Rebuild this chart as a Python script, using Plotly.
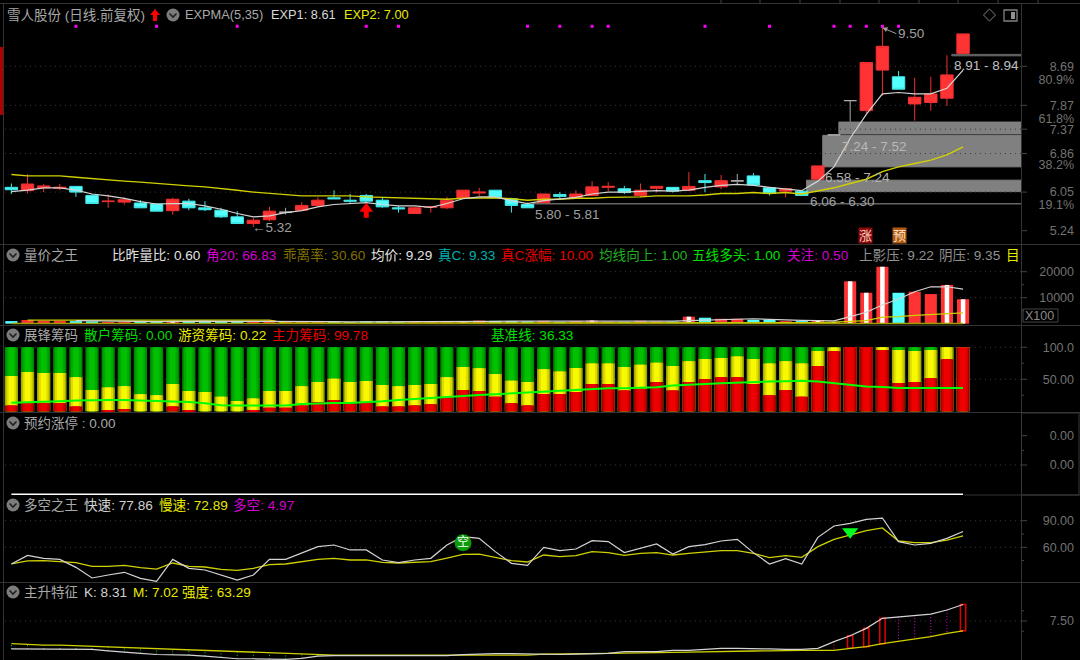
import plotly.graph_objects as go

IDX = list(range(60))
OPEN = [6.15,6.08,6.14,6.13,6.17,5.98,5.85,5.84,5.82,5.80,5.66,5.86,5.72,5.67,5.53,5.39,5.47,5.62,5.67,5.77,
        5.93,5.88,5.98,5.88,5.72,5.60,5.73,5.72,5.93,6.03,6.09,5.91,5.79,5.83,6.00,5.93,5.98,6.15,6.12,5.98,
        6.13,6.15,6.09,6.29,6.16,6.28,6.39,6.14,6.07,6.07,6.32,7.25,7.97,7.76,8.61,8.47,7.90,7.93,8.02,8.96]
CLOSE = [6.10,6.22,6.18,6.15,6.05,5.81,5.86,5.89,5.72,5.65,5.90,5.72,5.68,5.53,5.39,5.46,5.65,5.63,5.77,5.88,
         5.91,5.86,5.86,5.74,5.70,5.72,5.74,5.88,6.09,6.05,5.93,5.77,5.72,6.01,5.96,6.01,6.16,6.17,6.04,6.09,
         6.17,6.07,6.17,6.25,6.29,6.29,6.20,6.02,6.12,5.98,6.60,7.25,7.97,8.77,9.11,8.21,8.04,8.11,8.51,9.37]
HIGH = [6.23,6.43,6.22,6.22,6.17,6.01,6.00,5.94,5.88,5.81,5.93,5.91,5.86,5.72,5.65,5.51,5.74,5.72,5.84,5.94,
        6.09,6.01,6.01,5.93,5.76,5.74,5.76,5.95,6.09,6.14,6.09,5.93,5.83,6.01,6.05,6.09,6.28,6.26,6.18,6.23,
        6.18,6.15,6.47,6.43,6.41,6.43,6.45,6.15,6.14,6.09,6.60,7.25,7.97,8.77,9.50,8.59,8.45,8.47,8.92,9.37]
LOW = [6.01,6.02,6.05,6.09,5.95,5.81,5.72,5.79,5.72,5.65,5.58,5.67,5.65,5.51,5.39,5.32,5.44,5.58,5.65,5.74,
       5.91,5.80,5.81,5.72,5.62,5.60,5.62,5.69,5.93,5.97,5.93,5.62,5.72,5.83,5.90,5.93,5.98,6.07,6.01,5.94,
       6.04,6.04,6.07,6.05,6.11,6.21,6.18,5.98,5.94,5.98,6.32,7.25,7.53,7.70,8.07,8.21,7.55,7.76,7.86,8.95]
GRAY_IDX = [17, 45, 51, 52]
EXP1 = [6.06,6.09,6.14,6.14,6.09,6.01,5.97,5.92,5.85,5.80,5.81,5.81,5.76,5.69,5.60,5.53,5.55,5.62,5.66,5.74,
        5.79,5.81,5.83,5.79,5.76,5.76,5.73,5.81,5.91,5.95,5.95,5.87,5.81,5.87,5.90,5.94,6.01,6.05,6.05,6.07,
        6.08,6.07,6.09,6.15,6.19,6.21,6.19,6.15,6.11,6.08,6.28,6.58,7.18,7.68,8.11,8.14,8.11,8.11,8.23,8.61]
EXP2 = [6.42,6.39,6.39,6.39,6.36,6.33,6.30,6.28,6.26,6.23,6.21,6.18,6.16,6.13,6.09,6.05,6.02,5.99,5.97,5.97,
        5.97,5.97,5.95,5.94,5.92,5.92,5.90,5.90,5.92,5.93,5.93,5.91,5.88,5.90,5.90,5.92,5.92,5.94,5.94,5.95,
        5.97,5.97,5.97,5.99,6.02,6.02,6.04,6.02,6.04,6.01,6.08,6.14,6.23,6.32,6.48,6.58,6.65,6.72,6.83,7.00]
SIGNAL_IDX = [4,9,14,22,24,32,34,36,37,43,47,51,52,53,54,55]
SIGNAL_VAL = [9.53]*16
ZONE_START = [51.3,50.3,49.3,32.3,58.3]
ZONE_LOW = [7.27,6.58,6.06,5.80,8.91]
ZONE_HIGH = [7.52,7.24,6.30,5.81,8.94]
ZONE_COLOR = ["#808080","#808080","#808080","#666666","#666666"]

VOLUME = [1000,1400,1100,1100,1000,900,500,700,900,1000,1100,1000,700,900,900,900,1200,600,700,700,
          700,600,900,900,500,600,500,700,1000,1200,1100,1000,900,1100,700,1000,1200,800,700,1100,
          900,800,2700,2300,1900,1900,1500,1500,1000,1000,1400,700,16300,11900,21900,11900,12300,11400,14900,9400]
VOL_WHITE_CORE = [10,28,36,42,50,51,52,53,54,58,59]
VOL_MA5 = [None,None,None,None,1200,1100,1000,900,800,800,900,1000,1000,900,900,900,1000,1000,900,800,
           800,700,700,800,800,700,700,700,700,800,900,1000,1000,1100,1000,1000,1000,1000,900,1000,
           1000,1000,1200,1400,1700,1900,1900,1700,1400,1300,1200,1100,2700,4400,7200,9500,12300,14200,14200,13300]
VOL_MA_LONG = [None,1400,1400,1400,1400,1400,1400,1400,1400,1400,1400,1400,1400,1400,1400,1400,1400,200,200,200,
               200,200,200,200,200,200,200,200,200,200,200,200,200,200,200,200,200,200,200,200,
               200,200,200,200,300,300,300,300,300,300,400,600,1000,1200,2500,2700,3200,3600,3900,4200]
VOL_BASE = [60]*60

CHIP_MAIN = [8.9,12.5,12.5,12.5,7.3,0,2.1,3.6,0,0,7.3,2.1,0,0,0,2.1,5.7,5.7,8.9,14.6,17.7,12.5,14.1,7.3,7.3,8.9,10.9,21.9,33.3,31.8,
             22.9,12.5,8.9,27.1,27.1,30.2,42.7,42.7,32.3,35.4,45.8,32.3,45.8,50,53.1,53.1,42.7,25,33.3,22.9,70.8,93.8,100,100,95.8,44.3,45.8,51.6,81.3,99.78]
CHIP_MAIN_HOT = [55.2,61.5,59.9,59.9,53.1,33.3,37,39.1,26.6,25,42.7,31.8,30.2,22.9,16.2,19.8,31.8,31.8,39.1,45.8,51,45.8,47.4,41.2,39.1,41.2,42.7,53.1,69.3,67.2,
                 58.3,47.9,45.8,65.6,62,67.7,74.5,74.5,69.3,72.9,76,70.8,78.1,81.8,83.3,85.4,81.8,74.5,78.1,74.5,94.3,99.5,100,100,100,95.8,94.3,95.8,100,100]
CHIP_ALL = [100]*60
CHIP_BASE = [13.5,14,15.1,15.6,16.7,17.7,17.7,17.7,17.2,16.7,15.6,14.6,12.5,9.4,8.9,8.9,8.9,8.9,11.5,12.5,13,13,14,15.6,17.7,19.3,21.4,23.4,25,25.5,
             26.6,28.1,28.6,30.7,32.3,33.3,34.9,36,36,37,37.5,40.1,41.7,42.7,43.7,44.8,45.3,46.4,46.9,47.9,46.4,43.7,41.7,38.6,38,36.4,36.4,36.4,36.4,36.33]

RESERVE = [0]*60

FAST = [41.2,50.9,47.6,46.4,37.4,25.4,28.8,31.8,25,21.6,46.4,36.3,34.4,28.8,23.1,28.8,46.4,46.4,54,60.7,
        62.6,57,57,45.7,42.7,45.7,47.6,62.6,72,70.1,55.1,41.9,39.7,60,56.2,58.1,67.5,66.4,54,58.5,
        63.7,52.4,60.7,63,67.1,69,54,41.2,47.2,41.2,71.2,84,87,91.5,93,66.4,62.6,64.5,70.1,77.86]
SLOW = [41.2,44.6,44.9,44.2,42.7,38.5,38.5,39.7,37,35.5,42.3,38.5,37.8,35.2,34,36.3,40.4,41.2,43.4,46.4,
        47.6,45.7,45.7,43.1,42.3,43.4,43.8,47.9,52,52.4,48.7,44.9,43.4,51.3,49.4,50.6,55.1,54,51,53.2,
        54,51.3,53.2,55.1,56.2,56.2,53.2,48.3,50.6,48.7,60.7,69,73.9,78.8,81.8,67.1,65.2,65.2,68.2,72.89]
SIGNAL_KONG = ([28], [65])
SIGNAL_DOWN = ([52], [77.6])

K_LINE = [6.13,6.13,6.13,6.13,6.13,6.11,6.04,5.96,5.91,5.86,5.86,5.83,5.78,5.72,5.65,5.65,5.64,5.62,5.67,5.78,
          5.80,5.80,5.80,5.80,5.80,5.80,5.80,5.80,5.85,5.88,5.90,5.90,5.88,5.86,5.86,5.88,5.88,5.91,6.00,6.00,
          6.00,6.06,6.06,6.11,6.16,6.16,6.13,6.13,6.11,6.11,6.16,6.49,6.78,7.14,7.63,7.71,7.78,7.84,8.04,8.31]
M_LINE = [6.39,6.34,6.32,6.32,6.29,6.27,6.24,6.21,6.19,6.16,6.13,6.08,6.04,6.01,5.98,5.95,5.93,5.90,5.88,5.85,
          5.83,5.83,5.83,5.83,5.83,5.83,5.83,5.83,5.83,5.85,5.85,5.83,5.83,5.88,5.88,5.88,5.91,5.91,5.93,5.93,
          5.96,5.96,5.98,6.00,6.01,6.01,6.03,6.04,6.06,6.06,6.06,6.06,6.16,6.24,6.39,6.50,6.62,6.73,6.89,7.02]
GREEN_MARK = list(range(0, 28))
RED_DOT_MARK = [51]
MAGENTA_MARK = [55, 56, 57, 58]
RED_BOX_IDX = [52, 53, 54, 59]

MAIN_TICKS = [8.69, 8.42, 7.87, 7.60, 7.37, 6.86, 6.62, 6.05, 5.78, 5.24]
MAIN_LABELS = ["8.69", "80.9%", "7.87", "61.8%", "7.37", "6.86", "38.2%", "6.05", "19.1%", "5.24"]
MAIN_GRID = [8.69, 7.87, 7.37, 6.86, 6.05]
VOL_TICKS = [20000, 10000]
VOL_LABELS = ["20000", "10000"]
VOL_MINOR = [15000, 5000]
CHIP_TICKS = [100, 50]
CHIP_LABELS = ["100.0", "50.00"]
CHIP_MINOR = [75, 25]
RES_TICKS = [2, 1]
RES_LABELS = ["0.00", "0.00"]
RES_MINOR = [1.5]
FAST_TICKS = [90, 60]
FAST_LABELS = ["90.00", "60.00"]
FAST_MINOR = [75, 45]
K_TICKS = [7.5]
K_LABELS = ["7.50"]
K_MINOR = [8.0, 7.0]

FONT = "Liberation Sans, Noto Sans CJK SC, sans-serif"
W, H = 1080, 660
PX0, PXSTEP = 11.4, 16.13
XR = [(0 - PX0) / PXSTEP, (1021 - PX0) / PXSTEP]
RED, CYAN, GRAY = "#ff3333", "#54ffff", "#a8a8a8"
LINE_WHITE, YEL = "#d4d4d4", "#d0d000"


def X(p):
    return p / W


def Y(p):
    return 1 - p / H


def dom(top, bot):
    return [Y(bot), Y(top)]


fig = go.Figure()

# main panel
keep = [i for i in IDX if i not in GRAY_IDX]
fig.add_trace(go.Candlestick(
    x=keep, open=[OPEN[i] for i in keep], high=[HIGH[i] for i in keep],
    low=[LOW[i] for i in keep], close=[CLOSE[i] for i in keep], whiskerwidth=0,
    increasing=dict(fillcolor=RED, line=dict(color="#f03030", width=1)),
    decreasing=dict(fillcolor=CYAN, line=dict(color="#40e8e8", width=1)), yaxis="y"))
fig.add_trace(go.Candlestick(
    x=GRAY_IDX, open=[OPEN[i] for i in GRAY_IDX], high=[HIGH[i] for i in GRAY_IDX],
    low=[LOW[i] for i in GRAY_IDX], close=[CLOSE[i] for i in GRAY_IDX], whiskerwidth=0,
    increasing=dict(fillcolor=GRAY, line=dict(color=GRAY, width=1)),
    decreasing=dict(fillcolor=GRAY, line=dict(color=GRAY, width=1)), yaxis="y"))
fig.add_trace(go.Scatter(x=IDX, y=EXP2, mode="lines", line=dict(color=YEL, width=1.4), yaxis="y"))
fig.add_trace(go.Scatter(x=IDX, y=EXP1, mode="lines", line=dict(color=LINE_WHITE, width=1.2), yaxis="y"))
fig.add_trace(go.Scatter(x=SIGNAL_IDX, y=SIGNAL_VAL, mode="markers",
                         marker=dict(symbol="square", size=3, color="#ff00ff"), yaxis="y"))
fig.add_trace(go.Scatter(x=[22, 22], y=[5.67, 5.51], mode="lines", line=dict(color="#ff0000", width=5), yaxis="y"))
fig.add_trace(go.Scatter(x=[22], y=[5.70], mode="markers",
                         marker=dict(symbol="triangle-up", size=12, color="#ff0000"), yaxis="y"))

# volume panel
vol_col = [RED if CLOSE[i] >= OPEN[i] else CYAN for i in IDX]
fig.add_trace(go.Scatter(x=IDX, y=VOL_MA_LONG, mode="lines", line=dict(color=YEL, width=1.2), yaxis="y2"))
fig.add_trace(go.Scatter(x=IDX, y=VOL_MA5, mode="lines", line=dict(color=LINE_WHITE, width=1.2), yaxis="y2"))
fig.add_trace(go.Bar(x=IDX, y=VOLUME, width=0.75, marker=dict(color=vol_col, line=dict(width=0)), yaxis="y2"))
fig.add_trace(go.Bar(x=VOL_WHITE_CORE, y=[VOLUME[i] for i in VOL_WHITE_CORE], width=0.28,
                     marker=dict(color="#ffffff", line=dict(width=0)), yaxis="y2"))
fig.add_trace(go.Scatter(x=IDX, y=VOL_BASE, mode="lines", line=dict(color="#a0a000", width=1.5), yaxis="y2"))

# chips panel: each stack is shaded darker at the edges
for values, shades in ((CHIP_ALL, ("#008800", "#00a800", "#00c000")),
                       (CHIP_MAIN_HOT, ("#a8a800", "#dcdc00", "#f8f800")),
                       (CHIP_MAIN, ("#a00000", "#d40000", "#ee0000"))):
    for wd, col in zip((0.82, 0.62, 0.36), shades):
        fig.add_trace(go.Bar(x=IDX, y=values, width=wd, marker=dict(color=col, line=dict(width=0)), yaxis="y3"))
fig.add_trace(go.Scatter(x=IDX, y=CHIP_BASE, mode="lines", line=dict(color="#00ff00", width=2), yaxis="y3"))

# reserve panel
fig.add_trace(go.Scatter(x=IDX, y=RESERVE, mode="lines", line=dict(color="#ffffff", width=1.5),
                         cliponaxis=False, yaxis="y4"))

# fast/slow panel
fig.add_trace(go.Scatter(x=IDX, y=SLOW, mode="lines", line=dict(color=YEL, width=1.3), yaxis="y5"))
fig.add_trace(go.Scatter(x=IDX, y=FAST, mode="lines", line=dict(color=LINE_WHITE, width=1.2), yaxis="y5"))
fig.add_trace(go.Scatter(x=SIGNAL_KONG[0], y=SIGNAL_KONG[1], mode="markers+text", text=["空"],
                         textposition="middle center", textfont=dict(color="#ffffff", size=12, family=FONT),
                         marker=dict(symbol="circle", size=17, color="#0a9a0a"), yaxis="y5"))
fig.add_trace(go.Scatter(x=SIGNAL_DOWN[0], y=SIGNAL_DOWN[1], mode="markers",
                         marker=dict(symbol="triangle-down", size=14, color="#00ff20"), yaxis="y5"))


def stems(ids):
    xs, ys = [], []
    for i in ids:
        xs += [i, i, None]
        ys += [K_LINE[i], M_LINE[i], None]
    return xs, ys


# K/M panel
for ids, col in ((GREEN_MARK, "#00e000"), (RED_DOT_MARK, "#ff2020"), (MAGENTA_MARK, "#e000e0")):
    sx, sy = stems(ids)
    fig.add_trace(go.Scatter(x=sx, y=sy, mode="lines", line=dict(color=col, width=1, dash="1px,2px"), yaxis="y6"))
fig.add_trace(go.Bar(x=RED_BOX_IDX, base=[M_LINE[i] for i in RED_BOX_IDX],
                     y=[K_LINE[i] - M_LINE[i] for i in RED_BOX_IDX], width=0.33,
                     marker=dict(color="rgba(0,0,0,0)", line=dict(color="#e00000", width=1.5)), yaxis="y6"))
fig.add_trace(go.Scatter(x=IDX, y=M_LINE, mode="lines", line=dict(color=YEL, width=1.3), yaxis="y6"))
fig.add_trace(go.Scatter(x=IDX, y=K_LINE, mode="lines", line=dict(color=LINE_WHITE, width=1.2), yaxis="y6"))

shapes = []


def hline(y, x0=0, x1=W, col="#333333", w=1):
    shapes.append(dict(type="line", xref="paper", yref="paper", x0=X(x0), x1=X(x1), y0=Y(y), y1=Y(y),
                       line=dict(color=col, width=w)))


def vline(x, y0, y1, col="#333333", w=1):
    shapes.append(dict(type="line", xref="paper", yref="paper", x0=X(x), x1=X(x), y0=Y(y0), y1=Y(y1),
                       line=dict(color=col, width=w)))


def poly(pts, fill=None, line=None, w=1, close=True):
    d = "M " + " L ".join(f"{X(a):.5f},{Y(b):.5f}" for a, b in pts) + (" Z" if close else "")
    shapes.append(dict(type="path", xref="paper", yref="paper", path=d, fillcolor=fill if fill else "rgba(0,0,0,0)",
                       line=dict(color=line if line else "rgba(0,0,0,0)", width=w)))


# zones
for s, lo, hi, col in zip(ZONE_START, ZONE_LOW, ZONE_HIGH, ZONE_COLOR):
    shapes.append(dict(type="rect", xref="x", yref="y", x0=s, x1=XR[1], y0=lo, y1=hi, fillcolor=col,
                       line=dict(width=1, color=col), layer="below"))

# dotted grids
for yref, vals in (("y", MAIN_GRID), ("y2", VOL_TICKS), ("y3", CHIP_TICKS), ("y4", [1]), ("y5", FAST_TICKS), ("y6", K_TICKS)):
    for v in vals:
        shapes.append(dict(type="line", xref="x", yref=yref, x0=-0.4, x1=XR[1], y0=v, y1=v, layer="below",
                           line=dict(color="#3a3a3a", width=1, dash="1px,4px")))

# tick marks on the right axis
for yref, vals in (("y", [8.69, 7.87, 7.37, 6.86, 6.05, 5.24]), ("y2", VOL_TICKS), ("y3", CHIP_TICKS),
                   ("y4", RES_TICKS), ("y5", FAST_TICKS), ("y6", K_TICKS)):
    for v in vals:
        shapes.append(dict(type="line", xref="paper", yref=yref, x0=X(1021), x1=X(1027), y0=v, y1=v,
                           line=dict(color="#444444", width=1)))
for yref, vals in (("y2", VOL_MINOR), ("y3", CHIP_MINOR), ("y4", RES_MINOR), ("y5", FAST_MINOR), ("y6", K_MINOR)):
    for v in vals:
        shapes.append(dict(type="line", xref="paper", yref=yref, x0=X(1021), x1=X(1024), y0=v, y1=v,
                           line=dict(color="#444444", width=1)))

# frame
for y in (3.5, 244.5, 325.5, 412.5, 582.5):
    hline(y)
hline(495, 964, W)
vline(1021.5, 3, 660)
vline(3.5, 3, 660)
poly([(1021.5, 413), (1079, 413), (1079, 495), (1021.5, 495)], line="#3a3a3a")
for x in (721, 760, 800, 840, 879, 919, 958, 998, 1038):
    vline(x, 0, 3.5, "#444444")
shapes.append(dict(type="rect", xref="paper", yref="paper", x0=0, x1=X(3), y0=Y(115), y1=Y(47),
                   fillcolor="#b00000", line=dict(width=0)))

# X100 box
poly([(1023, 309), (1058, 309), (1058, 322), (1023, 322)], line="#444444")


def chevron(cx, cy):
    shapes.append(dict(type="circle", xref="paper", yref="paper", x0=X(cx - 6.5), x1=X(cx + 6.5),
                       y0=Y(cy + 6.5), y1=Y(cy - 6.5), fillcolor="#7c7c7c", line=dict(width=0)))
    poly([(cx - 3.5, cy - 1.5), (cx, cy + 2), (cx + 3.5, cy - 1.5)], line="#202020", w=1.6, close=False)


for c in ((173, 15), (13, 255), (13, 335), (13, 423), (13, 505), (13, 592)):
    chevron(*c)

# header arrow
poly([(155, 9), (160, 15), (157, 15), (157, 21), (153, 21), (153, 15), (150, 15)], fill="#ff0000")
# icons at the top right
poly([(989.5, 9), (995.5, 15), (989.5, 21), (983.5, 15)], line="#808080")
poly([(1004, 10), (1017, 10), (1017, 21), (1004, 21)], line="#808080", w=1.3)
poly([(1011, 12), (1015, 12), (1015, 19), (1011, 19)], fill="#909090")

ann = []


def text(x, y, s, col="#b0b0b0", size=13, anchor="left", **kw):
    ann.append(dict(x=X(x - 1.5), y=Y(y), xref="paper", yref="paper", text=s, showarrow=False, xanchor=anchor,
                    yanchor="middle", font=dict(color=col, size=size, family=FONT), borderpad=0, **kw))


HEAD = "#a8a8a8"
S = 13.6
text(7, 15, "雪人股份 (日线.前复权)", HEAD, 13.5)
text(185, 15, "EXPMA(5,35)", HEAD, 12.8)
text(271, 15, "EXP1: 8.61", "#d8d8d8", 12.8)
text(344, 15, "EXP2: 7.00", "#e8e800", 12.8)

text(24, 255, "量价之王", HEAD, 13.5)
text(112, 255, "比昨量比: 0.60", "#e0e0e0", S)
text(206, 255, "角20: 66.83", "#d000d0", S)
text(283, 255, "乖离率: 30.60", "#807000", S)
text(371, 255, "均价: 9.29", "#e0e0e0", S)
text(438, 255, "真C: 9.33", "#00b0b0", S)
text(501, 255, "真C涨幅: 10.00", "#e80000", S)
text(599, 255, "均线向上: 1.00", "#20b020", S)
text(693, 255, "五线多头: 1.00", "#00e000", S)
text(787, 255, "关注: 0.50", "#d000d0", S)
text(859, 255, "上影压: 9.22", "#909090", S)
text(939, 255, "阴压: 9.35", "#909090", S)
text(1006, 255, "目", "#e8e800", S)

text(24, 335, "展锋筹码", HEAD, 13.5)
text(84, 335, "散户筹码: 0.00", "#00d800", S)
text(178, 335, "游资筹码: 0.22", "#e8e800", S)
text(272, 335, "主力筹码: 99.78", "#e80000", S)
text(491, 335, "基准线: 36.33", "#00e000", S)

text(24, 423, "预约涨停 : 0.00", HEAD, 13.5)

text(24, 505, "多空之王", HEAD, 13.5)
text(84, 505, "快速: 77.86", "#d0d0d0", S)
text(159, 505, "慢速: 72.89", "#e8e800", S)
text(233, 505, "多空: 4.97", "#d000d0", S)

text(24, 592, "主升特征", HEAD, 13.5)
text(84, 592, "K: 8.31", "#d0d0d0", S)
text(133, 592, "M: 7.02", "#e8e800", S)
text(182, 592, "强度: 63.29", "#e8e800", S)

text(1025, 315.5, "X100", "#8a8a8a", 12.5)
LBL = "#a0a0a0"
text(842, 146, "7.24 - 7.52", "#b8b8b8", 13.5)
text(825, 177.5, "6.58 - 7.24", "#b0b0b0", 13.5)
text(810, 202, "6.06 - 6.30", LBL, 13.5)
text(535, 214, "5.80 - 5.81", LBL, 13.5)
text(954, 66, "8.91 - 8.94", "#c0c0c0", 13.5)
text(252, 227.5, "←5.32", LBL, 13.5)
ann.append(dict(x=54, y=9.50, xref="x", yref="y", text="9.50", showarrow=True, ax=14, ay=6, axref="pixel", ayref="pixel",
                arrowcolor=LBL, arrowhead=2, arrowwidth=1, xanchor="left", yanchor="middle",
                font=dict(color=LBL, size=13.5, family=FONT)))
text(859.5, 235.5, "涨", "#ffd0c0", 13, bgcolor="#8c0a0a")
text(893.5, 235.5, "预", "#ffe0c0", 13, bgcolor="#b05a14")


def yax(top, bot, rng, tv, tt):
    return dict(domain=dom(top, bot), range=rng, anchor="free", position=X(1074), side="left",
                tickmode="array", tickvals=tv, ticktext=tt, tickfont=dict(color="#727272", size=12.5, family=FONT),
                showgrid=False, zeroline=False, showline=False, ticks="", ticklen=0, fixedrange=True)


fig.update_layout(
    width=W, height=H, autosize=False, margin=dict(l=0, r=0, t=0, b=0), showlegend=False,
    paper_bgcolor="#000000", plot_bgcolor="#000000", barmode="overlay", boxmode="overlay", boxgap=0.23, boxgroupgap=0,
    font=dict(family=FONT), shapes=shapes, annotations=ann,
    xaxis=dict(domain=[0, X(1021)], range=XR, visible=False, rangeslider=dict(visible=False), fixedrange=True, anchor="y"),
    yaxis=yax(10, 244, [8.69 - (244 - 66.3) / 47.65, 8.69 + (66.3 - 10) / 47.65], MAIN_TICKS, MAIN_LABELS),
    yaxis2=yax(245, 325, [-500, 30270], VOL_TICKS, VOL_LABELS),
    yaxis3=yax(325, 412.7, [-2.2, 134.8], CHIP_TICKS, CHIP_LABELS),
    yaxis4=yax(412.7, 495, [-0.024, 2.785], RES_TICKS, RES_LABELS),
    yaxis5=yax(495, 582, [60 + (547.3 - 582) / 0.887, 60 + (547.3 - 495) / 0.887], FAST_TICKS, FAST_LABELS),
    yaxis6=yax(582, 660, [5.59, 9.41], K_TICKS, K_LABELS),
)

fig.write_html("out.html", config=dict(displayModeBar=False),
               post_script="document.body.style.margin='0';document.body.style.background='#000';")
